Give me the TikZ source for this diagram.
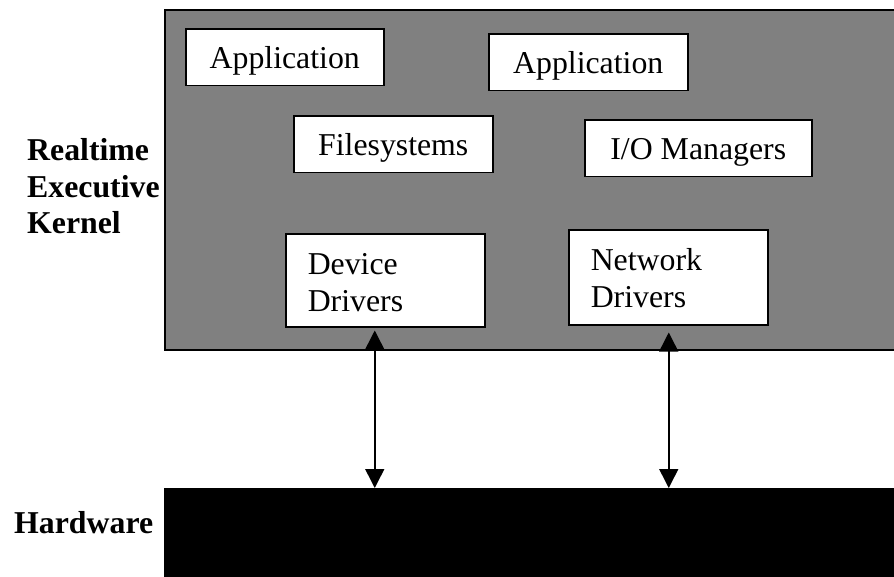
\documentclass[tikz,border=0pt]{standalone}
\usepackage{fontspec}
\setmainfont{Liberation Serif}
\usetikzlibrary{arrows.meta}
\definecolor{kernelgray}{HTML}{808080}
\newcommand{\twolines}[2]{\makebox[155pt][l]{\begin{tabular}[t]{@{}l@{}}#1\\#2\end{tabular}}}
\begin{document}
\begin{tikzpicture}[x=1pt,y=-1pt,
  every node/.style={font=\fontsize{31.8}{36.5}\selectfont},
  layer/.style={draw=black, line width=1.5pt, inner sep=0pt, anchor=north west},
  comp/.style={draw=black, fill=white, line width=1.5pt, anchor=north west,
    inner xsep=0pt, inner ysep=0pt, text height=40pt, text depth=16.5pt},
  drv/.style={comp, inner xsep=22pt},
  link/.style={line width=1.5pt,
    {Triangle[length=19pt,width=19pt]}-{Triangle[length=19pt,width=19pt]}},
  caption/.style={font=\bfseries\fontsize{31.8}{36.5}\selectfont, anchor=base west, inner sep=0pt}
]
\useasboundingbox (0,0) rectangle (894,576);

% kernel and hardware layers
\node[layer, fill=kernelgray, minimum width=760pt, minimum height=340pt] (kernel) at (164,9) {};
\node[layer, fill=black, minimum width=760pt, minimum height=110pt] (hw) at (164,488) {};

% kernel components
\node[comp, minimum width=198pt] (app1) at (185,28) {Application};
\node[comp, minimum width=199pt] (app2) at (488,33) {Application};
\node[comp, minimum width=199pt] (fs) at (293,115) {Filesystems};
\node[comp, minimum width=227pt] (io) at (584,119) {I/O Managers};
\node[drv, text height=41pt, text depth=52pt] (dd) at (285,233) {\twolines{Device}{Drivers}};
\node[drv, text height=41pt, text depth=54pt] (nd) at (568,229) {\twolines{Network}{Drivers}};

% layer captions
\node[caption] (rtk) at (27,160.5) {\begin{tabular}[t]{@{}l@{}}Realtime\\Executive\\Kernel\end{tabular}};
\node[caption] (hwl) at (14,533) {Hardware};

% driver to hardware links
\coordinate (ddport) at ([xshift=-10.5pt,yshift=-3pt]dd.south);
\coordinate (ndport) at ([xshift=0.5pt,yshift=-7pt]nd.south);
\draw[link] (ddport) -- (ddport |- hw.north);
\draw[link] (ndport) -- (ndport |- hw.north);
\end{tikzpicture}
\end{document}
